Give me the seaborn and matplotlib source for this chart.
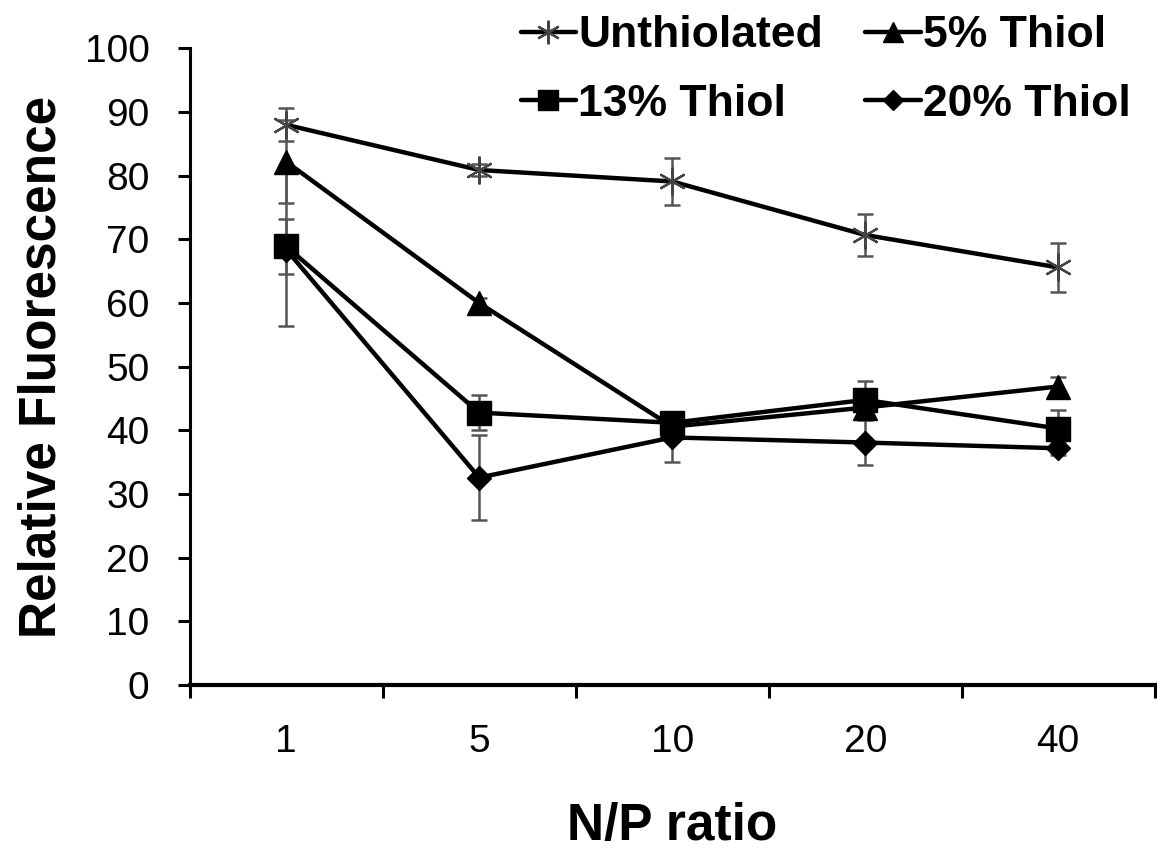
import matplotlib
matplotlib.use("Agg")
import matplotlib.pyplot as plt
import seaborn as sns
import numpy as np
import pandas as pd
from matplotlib.lines import Line2D

np_ratio = ["1", "5", "10", "20", "40"]
series_names = ["Unthiolated", "5% Thiol", "13% Thiol", "20% Thiol"]
unthiolated = [88.0, 80.9, 79.1, 70.7, 65.6]
unthiolated_err = [2.6, 1.0, 3.7, 3.3, 3.9]
thiol5 = [82.2, 60.0, 40.6, 43.6, 46.9]
thiol5_err = [6.5, 0.8, 1.0, 1.0, 1.5]
thiol13 = [68.9, 42.8, 41.2, 44.8, 40.3]
thiol13_err = [4.3, 2.7, 1.2, 2.9, 2.9]
thiol20 = [68.4, 32.6, 38.9, 38.1, 37.2]
thiol20_err = [12.0, 6.7, 3.8, 3.6, 1.0]

values = [unthiolated, thiol5, thiol13, thiol20]
errors = [unthiolated_err, thiol5_err, thiol13_err, thiol20_err]

sns.set_theme(style="ticks")
plt.rcParams['font.family'] = ['Liberation Sans', 'DejaVu Sans']
plt.rcParams['text.color'] = 'black'
plt.rcParams['axes.labelcolor'] = 'black'
plt.rcParams['xtick.color'] = 'black'
plt.rcParams['ytick.color'] = 'black'

fig = plt.figure(figsize=(11.57, 8.49), dpi=100)
ax = fig.add_axes([0.164, 0.193, 0.834, 0.750])

pos = np.arange(len(np_ratio))
styles = {
    "Unthiolated": dict(marker=(6, 2, 0), ms=20, mec="#444444", mew=1.6, mfc="none"),
    "5% Thiol": dict(marker="^", ms=17, mec="black", mfc="black", mew=1),
    "13% Thiol": dict(marker="s", ms=17, mec="black", mfc="black", mew=1),
    "20% Thiol": dict(marker="D", ms=12, mec="black", mfc="black", mew=1),
}

for name, v, e in zip(series_names, values, errors):
    ax.errorbar(pos, v, yerr=e, fmt="none", ecolor="#555555", elinewidth=1.8,
                capsize=6, capthick=1.8, zorder=2)
    df = pd.DataFrame({"x": pos, "y": v})
    st = styles[name]
    sns.lineplot(data=df, x="x", y="y", ax=ax, color="black", linewidth=3.2,
                 marker=st["marker"], markersize=st["ms"], markeredgecolor=st["mec"],
                 markerfacecolor=st["mfc"], markeredgewidth=st["mew"], zorder=3)

ax.set_xlim(-0.5, len(np_ratio) - 0.5)
ax.set_ylim(0, 100)
ax.set_yticks(np.arange(0, 101, 10))
ax.set_xticks(pos)
ax.set_xticklabels(np_ratio)
ax.set_xticks(np.arange(-0.5, len(np_ratio), 1.0), minor=True)
ax.tick_params(axis="x", which="major", length=0, pad=28, labelsize=28)
ax.tick_params(axis="x", which="minor", length=9, width=2.2, direction="out", color="black")
ax.tick_params(axis="y", which="major", length=9, width=2.2, direction="out", labelsize=28, pad=20)

for s in ["top", "right"]:
    ax.spines[s].set_visible(False)
ax.spines["left"].set_linewidth(2.2)
ax.spines["bottom"].set_linewidth(3.0)
ax.spines["left"].set_color("black")
ax.spines["bottom"].set_color("black")

ax.set_xlabel("N/P ratio", fontsize=37, fontweight="bold", labelpad=30)
ax.set_ylabel("Relative Fluorescence", fontsize=37, fontweight="bold", labelpad=13)

handles = {}
for name in series_names:
    st = styles[name]
    handles[name] = Line2D([0], [0], color="black", linewidth=3.2, marker=st["marker"],
                           markersize=st["ms"] * 0.85, markeredgecolor=st["mec"],
                           markerfacecolor=st["mfc"], markeredgewidth=st["mew"])

# matplotlib fills legend columns first; order so rows read as in the reference
leg_order = [series_names[0], series_names[2], series_names[1], series_names[3]]
leg = fig.legend([handles[n] for n in leg_order], leg_order, ncol=2, loc="upper left",
                 bbox_to_anchor=(0.425, 1.016), frameon=False, borderpad=0.15,
                 prop={"size": 32, "weight": "bold"}, handlelength=1.25,
                 handletextpad=0.05, columnspacing=0.95, labelspacing=0.62)

fig.savefig("out.png", dpi=100)
